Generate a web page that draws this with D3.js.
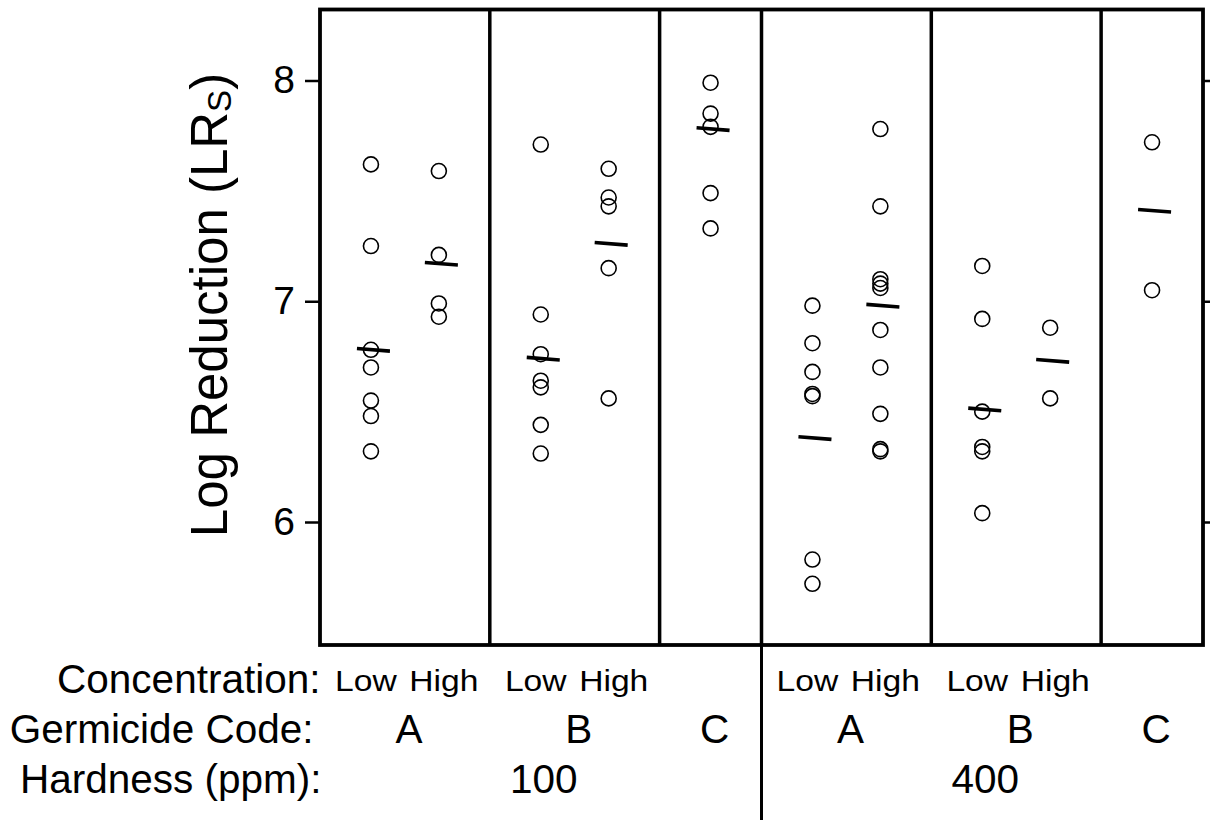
<!DOCTYPE html>
<html>
<head>
<meta charset="utf-8">
<script src="https://cdn.jsdelivr.net/npm/d3@7"></script>
<style>
  body { margin: 0; background: #fff; }
  text { font-family: "Liberation Sans", Arial, sans-serif; fill: #000; }
</style>
</head>
<body>
<div id="chart"></div>
<script>
// factor levels
var hardnessLevels = ["100", "400"];
var germicideCodes = ["A", "B", "C"];
// concentration levels tested for each germicide (C only at one level)
var concByGermicide = [["Low", "High"], ["Low", "High"], [""]];

// log reductions per column, in order A-Low, A-High, B-Low, B-High, C
var lr100 = [
  [7.62, 7.25, 6.78, 6.70, 6.55, 6.48, 6.32],
  [7.59, 7.21, 6.99, 6.93],
  [7.71, 6.94, 6.76, 6.64, 6.61, 6.44, 6.31],
  [7.60, 7.47, 7.43, 7.15, 6.56],
  [7.99, 7.85, 7.79, 7.49, 7.33]
];
var lr400 = [
  [6.98, 6.81, 6.68, 6.58, 6.57, 5.83, 5.72],
  [7.78, 7.43, 7.10, 7.08, 7.06, 6.87, 6.70, 6.49, 6.33, 6.32],
  [7.16, 6.92, 6.50, 6.34, 6.32, 6.04],
  [6.88, 6.56],
  [7.72, 7.05]
];
// mean marks as drawn
var means100 = [6.78, 7.17, 6.74, 7.26, 7.78];
var means400 = [6.38, 6.98, 6.51, 6.73, 7.41];

var yTicks = [6, 7, 8];

var W = 1210, H = 820;
var plot = {left: 320, right: 1203, top: 9.5, bottom: 645};

var svg = d3.select("#chart")
  .append("svg")
    .attr("width", W)
    .attr("height", H);

// build column slots: columns 2 apart inside a group, 1.5 padding at group edges
var columns = [], groups = [], hards = [];
var slot = 0;
hardnessLevels.forEach(function(h, hi) {
  var vals = hi == 0 ? lr100 : lr400;
  var mns = hi == 0 ? means100 : means400;
  var hStart = slot - 1.5, k = 0;
  germicideCodes.forEach(function(g, gi) {
    var gStart = slot - 1.5;
    concByGermicide[gi].forEach(function(c) {
      columns.push({h: h, g: g, c: c, slot: slot, values: vals[k], mean: mns[k]});
      k++;
      slot += 2;
    });
    slot += 1;
    groups.push({h: h, g: g, start: gStart, end: slot - 1.5});
  });
  hards.push({h: h, start: hStart, end: slot - 1.5});
});

var x = d3.scaleLinear()
  .domain([-1.5, slot - 1.5])
  .range([plot.left, plot.right]);

var y = d3.scaleLinear()
  .domain([6, 8])
  .range([522, 80.5]);

// y axis left
var yAxis = svg.append("g")
  .attr("transform", "translate(" + plot.left + ",0)")
  .call(d3.axisLeft(y).tickValues(yTicks).tickSize(15).tickPadding(10).tickFormat(d3.format("d")));
yAxis.select(".domain").remove();
yAxis.selectAll("line").attr("stroke", "#000").attr("stroke-width", 2.5);
yAxis.selectAll("text")
  .style("font-family", "'Liberation Sans', Arial, sans-serif")
  .style("font-size", "39px");

// right ticks
var yAxisR = svg.append("g")
  .attr("transform", "translate(" + plot.right + ",0)")
  .call(d3.axisRight(y).tickValues(yTicks).tickSize(10).tickFormat(""));
yAxisR.select(".domain").remove();
yAxisR.selectAll("line").attr("stroke", "#000").attr("stroke-width", 2.5);

// y title
var yTitle = svg.append("text")
  .attr("transform", "translate(227,305) rotate(-90)")
  .attr("text-anchor", "middle")
  .style("font-size", "51px");
yTitle.append("tspan").text("Log Reduction (LR");
yTitle.append("tspan").attr("dy", 4).style("font-size", "33px").text("S");
yTitle.append("tspan").attr("dy", -4).text(")");

// group dividers
groups.forEach(function(d) {
  if (d.end < slot - 1.5) {
    svg.append("line")
      .attr("x1", x(d.end)).attr("x2", x(d.end))
      .attr("y1", plot.top).attr("y2", plot.bottom)
      .attr("stroke", "#000").attr("stroke-width", 3.5);
  }
});
// hardness divider runs down through the labels
svg.append("line")
  .attr("x1", x(hards[0].end)).attr("x2", x(hards[0].end))
  .attr("y1", plot.top).attr("y2", H)
  .attr("stroke", "#000").attr("stroke-width", 3);

// frame
svg.append("rect")
  .attr("x", plot.left).attr("y", plot.top)
  .attr("width", plot.right - plot.left)
  .attr("height", plot.bottom - plot.top)
  .attr("fill", "none")
  .attr("stroke", "#000")
  .attr("stroke-width", 3.8);

// points
var pts = [];
columns.forEach(function(col) {
  col.values.forEach(function(v) { pts.push({slot: col.slot, v: v}); });
});
svg.append("g").selectAll("circle")
  .data(pts)
  .enter()
  .append("circle")
    .attr("cx", function(d) { return x(d.slot); })
    .attr("cy", function(d) { return y(d.v); })
    .attr("r", 7.5)
    .attr("fill", "none")
    .attr("stroke", "#000")
    .attr("stroke-width", 1.6);

// mean marks
svg.append("g").selectAll("line")
  .data(columns)
  .enter()
  .append("line")
    .attr("x1", function(d) { return x(d.slot) - 14; })
    .attr("x2", function(d) { return x(d.slot) + 19; })
    .attr("y1", function(d) { return y(d.mean) - 1.3; })
    .attr("y2", function(d) { return y(d.mean) + 1.3; })
    .attr("stroke", "#000")
    .attr("stroke-width", 3.6);

// row labels
var rowNames = ["Concentration:", "Germicide Code:", "Hardness (ppm):"];
var rowY = [692.5, 743, 793];
var rowX = [320.5, 313.5, 321.5];
rowNames.forEach(function(t, i) {
  svg.append("text")
    .attr("x", rowX[i]).attr("y", rowY[i])
    .attr("text-anchor", "end")
    .style("font-size", "40.5px")
    .text(t);
});

// concentration labels
svg.append("g").selectAll("text")
  .data(columns.filter(function(d) { return d.c != ""; }))
  .enter()
  .append("text")
    .attr("transform", function(d) {
      var gc = (d.c == "Low" ? -39 : 39) + x(d.slot + (d.c == "Low" ? 1 : -1));
      return "translate(" + gc + "," + 690.5 + ") scale(1.14,1)";
    })
    .attr("text-anchor", "middle")
    .style("font-size", "29.5px")
    .text(function(d) { return d.c; });

// germicide labels
svg.append("g").selectAll("text")
  .data(groups)
  .enter()
  .append("text")
    .attr("x", function(d) { return x((d.start + d.end) / 2) + 4; })
    .attr("y", 743)
    .attr("text-anchor", "middle")
    .style("font-size", "40.5px")
    .text(function(d) { return d.g; });

// hardness labels
svg.append("g").selectAll("text")
  .data(hards)
  .enter()
  .append("text")
    .attr("x", function(d) { return x((d.start + d.end) / 2) + 3; })
    .attr("y", 793)
    .attr("text-anchor", "middle")
    .style("font-size", "40.5px")
    .text(function(d) { return d.h; });
</script>
</body>
</html>
